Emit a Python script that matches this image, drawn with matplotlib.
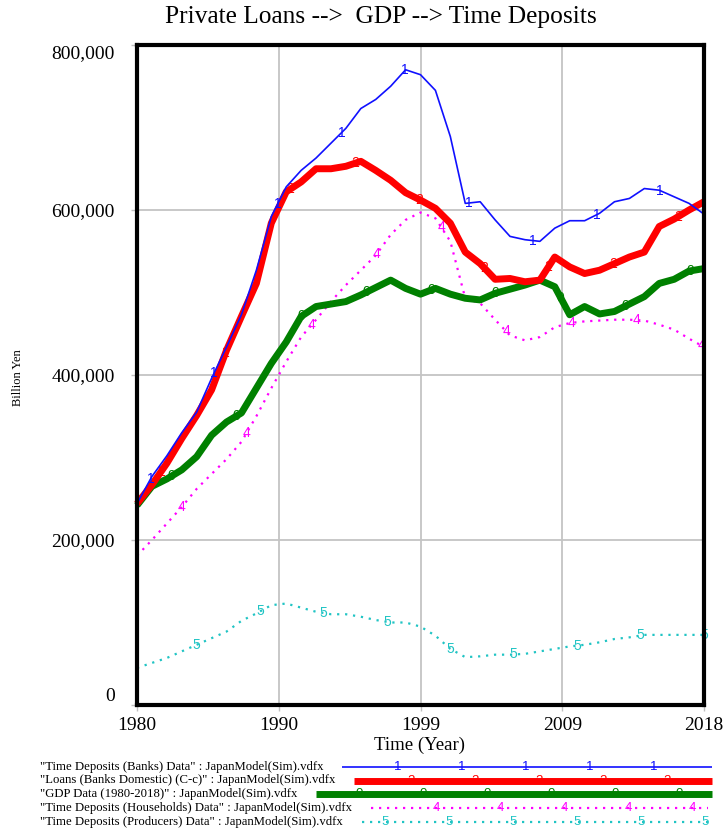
import numpy as np
import matplotlib
matplotlib.use("Agg")
import matplotlib.pyplot as plt
from matplotlib.lines import Line2D

# ---------------- data ----------------
years = np.arange(1980, 2019)

td_banks = np.array([244, 277, 302, 330, 355, 396, 434, 473, 527, 592,
                     628, 648, 663, 681, 699, 723, 734, 750, 770, 764,
                     745, 689, 608, 610, 588, 568, 564, 562, 578, 587,
                     587, 596, 610, 614, 626, 624, 616, 608, 595]) * 1000

loans = np.array([244, 267, 293, 323, 351, 382, 430, 471, 511, 584,
                  622, 634, 650, 650, 653, 659, 648, 636, 621, 612,
                  602, 584, 549, 535, 516, 517, 513, 515, 543, 531,
                  523, 527, 535, 543, 549, 580, 589, 600, 610]) * 1000

gdp = np.array([242, 265, 274, 285, 301, 327, 343, 354, 384, 414,
                440, 471, 483, 486, 489, 497, 506, 515, 505, 498,
                505, 498, 493, 491, 499, 504, 509, 515, 507, 473,
                483, 474, 477, 486, 495, 511, 516, 526, 529]) * 1000

td_households = np.array([181, 200, 220, 240, 262, 280, 298, 319, 350, 384,
                          416, 446, 467, 489, 509, 527, 545, 570, 588, 597,
                          590, 562, 493, 487, 467, 448, 442, 446, 458, 463,
                          465, 466, 467, 467, 466, 461, 455, 444, 434]) * 1000

td_producers = np.array([45, 51, 57, 65, 73, 81, 89, 102, 111, 121,
                         123, 118, 113, 110, 110, 107, 103, 100, 100, 95,
                         84, 68, 58, 59, 61, 61, 62, 65, 68, 71,
                         73, 76, 80, 82, 85, 85, 85, 85, 85]) * 1000

legend_labels = [
    '"Time Deposits (Banks) Data" : JapanModel(Sim).vdfx',
    '"Loans (Banks Domestic) (C-c)" : JapanModel(Sim).vdfx',
    '"GDP Data (1980-2018)" : JapanModel(Sim).vdfx',
    '"Time Deposits (Households) Data" : JapanModel(Sim).vdfx',
    '"Time Deposits (Producers) Data" : JapanModel(Sim).vdfx',
]
marker_chars = ["1", "2", "0", "4", "5"]

x_ticks = [1980, 1989.5, 1999, 2008.5, 2018]
x_tick_labels = ["1980", "1990", "1999", "2009", "2018"]
y_ticks = [0, 200000, 400000, 600000, 800000]
y_tick_labels = ["0", "200,000", "400,000", "600,000", "800,000"]

title = "Private Loans -->  GDP --> Time Deposits"
x_label = "Time (Year)"
y_label = "Billion Yen"

# ---------------- style ----------------
W, H = 724, 836
SERIF = "Liberation Serif"
SANS = "Liberation Sans"

series = [td_banks, loans, gdp, td_households, td_producers]
colors = ["#1010ff", "#ff0000", "#008000", "#ff00ff", "#20c4c4"]
widths = [1.2, 5.0, 5.0, 1.6, 1.6]
styles = ["-", "-", "-", (0, (1, 2.6)), (0, (1, 2.6))]
zorders = [8, 7, 6, 5, 4]
mark_start = [1980.9, 1981.6, 1982.3, 1983.0, 1984.0]
mark_step = [4.27, 4.33, 4.35, 4.35, 4.25]

fig = plt.figure(figsize=(W / 100, H / 100), dpi=100)
ax = fig.add_axes([137 / W, 1 - 705 / H, (704 - 137) / W, (705 - 45) / H])

for vals, c, lw, ls, z, ms, mstep, ch in zip(series, colors, widths, styles,
                                            zorders, mark_start, mark_step,
                                            marker_chars):
    ax.plot(years, vals, color=c, lw=lw, linestyle=ls, zorder=z,
            solid_capstyle="butt", solid_joinstyle="round", clip_on=False)
    mx = np.arange(ms, 2018.01, mstep)
    for x in mx:
        ax.text(x, np.interp(x, years, vals), ch, color=c, fontsize=10,
                family=SANS, ha="center", va="center", zorder=z + 0.5,
                clip_on=False)

ax.set_xlim(1980, 2018)
ax.set_ylim(0, 800000)
ax.set_xticks(x_ticks)
ax.set_xticklabels(x_tick_labels, family=SERIF, fontsize=14)
ax.set_yticks(y_ticks)
ax.set_yticklabels(y_tick_labels, family=SERIF, fontsize=14)
yl = ax.get_yticklabels()
yl[0].set_va("bottom")
yl[-1].set_va("top")
ax.tick_params(axis="both", length=4, width=1, color="#c0c0c0")
ax.tick_params(axis="y", pad=12)
ax.tick_params(axis="x", pad=5)
ax.grid(True, color="#c4c4c4", lw=1.3, zorder=0)
ax.set_axisbelow(True)
for s in ax.spines.values():
    s.set_linewidth(3)
    s.set_color("black")
    s.set_zorder(10)

fig.text(381 / W, 1 - 17 / H, title, family=SERIF, fontsize=18.3,
         ha="center", va="center")
fig.text(420 / W, 1 - 745 / H, x_label, family=SERIF, fontsize=13.5,
         ha="center", va="center")
fig.text(18 / W, 1 - 378 / H, y_label, family=SERIF, fontsize=9,
         ha="center", va="center", rotation=90)

# ---------------- legend ----------------
rows_y = [767, 780.5, 794, 808, 822]
line_x0 = [342, 354, 316, 371, 362]
line_x1 = [712, 712, 712, 708, 710]
mk_x0 = [398, 411, 359, 436, 385]
for lab, y, x0, x1, mx0, c, lw, ls, ch in zip(legend_labels, rows_y, line_x0,
                                              line_x1, mk_x0, colors, widths,
                                              styles, marker_chars):
    yf = 1 - y / H
    fig.text(40 / W, yf, lab, family=SERIF, fontsize=9.2, ha="left",
             va="center")
    fig.add_artist(Line2D([x0 / W, x1 / W], [yf, yf], color=c, lw=lw,
                          linestyle=ls, transform=fig.transFigure,
                          solid_capstyle="butt"))
    for mx in np.arange(mx0, x1 + 1, 64):
        fig.text(mx / W, yf, ch, color=c, fontsize=9.5, family=SANS,
                 ha="center", va="center")

fig.savefig("out.png", dpi=100)
